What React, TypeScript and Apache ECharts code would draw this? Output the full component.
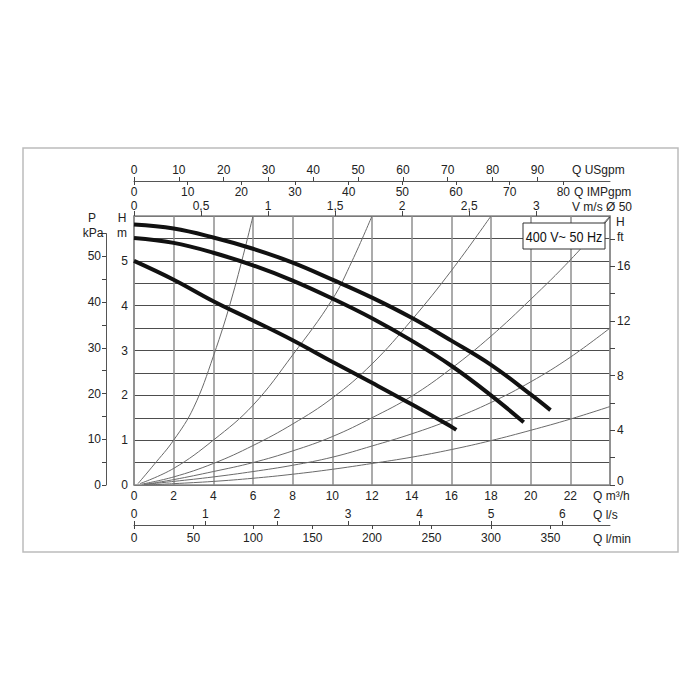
import React, { useEffect, useRef } from 'react';
import * as echarts from 'echarts';

// ---- axis tick labels ----
const flowM3hLabels = [0, 2, 4, 6, 8, 10, 12, 14, 16, 18, 20, 22];
const headMLabels = [0, 1, 2, 3, 4, 5];
const kPaTicks = [0, 5, 10, 15, 20, 25, 30, 35, 40, 45, 50, 55];
const kPaLabels = [0, 10, 20, 30, 40, 50];
const ftTicks = [0, 2, 4, 6, 8, 10, 12, 14, 16, 18];
const ftLabels = [4, 8, 12, 16];
const usgpmLabels = [0, 10, 20, 30, 40, 50, 60, 70, 80, 90];
const impgpmLabels = [0, 10, 20, 30, 40, 50, 60, 70, 80];
const velocityLabels = [0, 0.5, 1, 1.5, 2, 2.5, 3];
const lsLabels = [0, 1, 2, 3, 4, 5, 6];
const lminLabels = [0, 50, 100, 150, 200, 250, 300, 350];

// ---- axis ranges ----
const flowMax = 24; // m3/h
const headMax = 6; // m
const kPaMax = 55;
const ftMax = 19.69;
const usgpmMax = 106.2;
const impgpmMax = 88.7;
const velocityMax = 3.55;
const lsMax = 6.667;
const lminMax = 400;

// ---- pump curves (Q m3/h, H m) ----
const pump1Q = [0, 2, 4, 6, 8, 10, 12, 14, 16, 18, 20, 21];
const pump1H = [5.81, 5.72, 5.52, 5.27, 4.96, 4.58, 4.18, 3.73, 3.22, 2.68, 2.02, 1.67];
const pump2Q = [0, 2, 4, 6, 8, 10, 12, 14, 16, 18, 19.65];
const pump2H = [5.51, 5.4, 5.18, 4.9, 4.56, 4.16, 3.72, 3.22, 2.66, 2.0, 1.4];
const pump3Q = [0, 2, 4, 6, 8, 10, 12, 14, 16, 16.25];
const pump3H = [5.0, 4.58, 4.1, 3.67, 3.23, 2.75, 2.28, 1.8, 1.3, 1.23];

// ---- system curves (Q m3/h, H m) ----
const sysAQ = [0.2, 1, 2, 3, 4, 5, 6];
const sysAH = [0.03, 0.45, 1.0, 1.72, 2.87, 4.28, 6.0];
const sysBQ = [0.3, 2, 4, 6, 8, 10, 11, 12];
const sysBH = [0.03, 0.37, 1.0, 1.78, 2.9, 4.14, 5.0, 6.0];
const sysCQ = [0.4, 2, 4, 6, 8, 10, 12, 14, 16, 18];
const sysCH = [0.02, 0.18, 0.48, 0.88, 1.36, 1.94, 2.7, 3.68, 4.78, 6.0];
const sysDQ = [0.5, 2, 4, 6, 8, 10, 12, 14, 16, 18, 20, 22, 24];
const sysDH = [0.01, 0.12, 0.3, 0.5, 0.76, 1.08, 1.5, 1.98, 2.6, 3.32, 4.14, 5.02, 6.0];
const sysEQ = [0.5, 2, 4, 6, 8, 10, 12, 14, 16, 18, 20, 22, 24];
const sysEH = [0.01, 0.08, 0.18, 0.3, 0.44, 0.62, 0.87, 1.14, 1.46, 1.84, 2.3, 2.85, 3.5];
const sysFQ = [0.6, 2, 4, 6, 8, 10, 12, 14, 16, 18, 20, 22, 24];
const sysFH = [0.0, 0.03, 0.08, 0.15, 0.24, 0.35, 0.48, 0.62, 0.79, 0.99, 1.22, 1.47, 1.75];

const FONT = 'Liberation Sans, Arial, Helvetica, sans-serif';

const zip = (q: number[], h: number[]) => q.map((v, i) => [v, h[i]]);

export default function App() {
  const ref = useRef<HTMLDivElement>(null);

  useEffect(() => {
    document.body.style.margin = '0';
    const chart = echarts.init(ref.current!, null, { renderer: 'svg' });

    const gLeft = 134;
    const gTop = 216;
    const gWidth = 476;
    const gHeight = 269;
    const pxPerM = gHeight / headMax;
    const kPaHeight = (kPaMax / 9.80665) * pxPerM;

    const lbl = (extra: any = {}) => ({
      fontFamily: FONT,
      fontSize: 12,
      color: '#222',
      ...extra,
    });
    const tick = (extra: any = {}) => ({
      show: true,
      length: 4,
      lineStyle: { color: '#444', width: 1 },
      ...extra,
    });
    const line = (color = '#555', width = 1) => ({ show: true, onZero: false, lineStyle: { color, width } });
    const noLine = { show: false, onZero: false };

    const pump = (q: number[], h: number[]) => ({
      type: 'line',
      data: zip(q, h),
      smooth: 0.4,
      symbol: 'none',
      xAxisIndex: 0,
      yAxisIndex: 0,
      lineStyle: { color: '#111', width: 4, cap: 'butt' },
      z: 5,
    });
    const sys = (q: number[], h: number[]) => ({
      type: 'line',
      data: zip(q, h),
      smooth: 0.4,
      symbol: 'none',
      xAxisIndex: 0,
      yAxisIndex: 0,
      lineStyle: { color: '#6a6a6a', width: 1 },
      z: 3,
    });

    const textEl = (text: string, x: number, y: number, align = 'left', size = 12) => ({
      type: 'text',
      x,
      y,
      silent: true,
      z: 50,
      style: {
        text,
        fill: '#222',
        font: `${size}px ${FONT}`,
        textAlign: align,
        textVerticalAlign: 'middle',
      },
    });

    const option: any = {
      animation: false,
      backgroundColor: '#fff',
      grid: [
        { left: gLeft, top: gTop, width: gWidth, height: gHeight, containLabel: false },
        { left: gLeft, top: gTop + gHeight - kPaHeight, width: gWidth, height: kPaHeight, containLabel: false },
      ],
      xAxis: [
        {
          gridIndex: 0,
          type: 'value',
          min: 0,
          max: flowMax,
          interval: 2,
          position: 'bottom',
          axisLine: line('#888', 1.5),
          axisTick: { show: false },
          axisLabel: lbl({ customValues: flowM3hLabels, margin: 5 }),
          splitLine: { show: true, lineStyle: { color: '#8f8f8f', width: 1.5 } },
        },
        {
          gridIndex: 0,
          type: 'value',
          min: 0,
          max: lsMax,
          position: 'bottom',
          offset: 40,
          axisLine: line('#555', 1),
          axisTick: tick({ inside: true, customValues: lsLabels }),
          axisLabel: lbl({ inside: true, customValues: lsLabels, margin: 5 }),
          splitLine: { show: false },
        },
        {
          gridIndex: 0,
          type: 'value',
          min: 0,
          max: lminMax,
          position: 'bottom',
          offset: 40,
          axisLine: noLine,
          axisTick: tick({ customValues: lminLabels }),
          axisLabel: lbl({ customValues: lminLabels, margin: 7 }),
          splitLine: { show: false },
        },
        {
          gridIndex: 0,
          type: 'value',
          min: 0,
          max: usgpmMax,
          position: 'top',
          offset: 35,
          axisLine: line('#555', 1),
          axisTick: tick({ customValues: usgpmLabels }),
          axisLabel: lbl({ customValues: usgpmLabels, margin: 5 }),
          splitLine: { show: false },
        },
        {
          gridIndex: 0,
          type: 'value',
          min: 0,
          max: impgpmMax,
          position: 'top',
          offset: 35,
          axisLine: noLine,
          axisTick: tick({ inside: true, customValues: impgpmLabels }),
          axisLabel: lbl({ inside: true, customValues: impgpmLabels, margin: 5 }),
          splitLine: { show: false },
        },
        {
          gridIndex: 0,
          type: 'value',
          min: 0,
          max: velocityMax,
          position: 'top',
          offset: 0,
          axisLine: line('#888', 1.5),
          axisTick: tick({ length: 5, customValues: velocityLabels }),
          axisLabel: lbl({
            customValues: velocityLabels,
            margin: 4,
            formatter: (v: number) => String(v).replace('.', ','),
          }),
          splitLine: { show: false },
        },
        {
          gridIndex: 1,
          type: 'value',
          min: 0,
          max: flowMax,
          show: false,
          axisLine: noLine,
        },
      ],
      yAxis: [
        {
          gridIndex: 0,
          type: 'value',
          min: 0,
          max: headMax,
          interval: 0.5,
          position: 'left',
          axisLine: line('#888', 1.5),
          axisTick: { show: false },
          axisLabel: lbl({ customValues: headMLabels, margin: 6 }),
          splitLine: { show: true, lineStyle: { color: '#4d4d4d', width: 1 } },
        },
        {
          gridIndex: 0,
          type: 'value',
          min: 0,
          max: ftMax,
          position: 'right',
          axisLine: line('#888', 1.5),
          axisTick: tick({ length: 5, customValues: ftTicks }),
          axisLabel: lbl({ customValues: ftLabels, margin: 7 }),
          splitLine: { show: false },
        },
        {
          gridIndex: 1,
          type: 'value',
          min: 0,
          max: kPaMax,
          position: 'left',
          offset: 28,
          axisLine: line('#555', 1),
          axisTick: tick({ customValues: kPaTicks }),
          axisLabel: lbl({ customValues: kPaLabels, margin: 5 }),
          splitLine: { show: false },
        },
      ],
      series: [
        sys(sysAQ, sysAH),
        sys(sysBQ, sysBH),
        sys(sysCQ, sysCH),
        sys(sysDQ, sysDH),
        sys(sysEQ, sysEH),
        sys(sysFQ, sysFH),
        pump(pump1Q, pump1H),
        pump(pump2Q, pump2H),
        pump(pump3Q, pump3H),
      ],
      graphic: [
        {
          type: 'rect',
          silent: true,
          z: -10,
          shape: { x: 23, y: 148, width: 655, height: 404 },
          style: { fill: 'none', stroke: '#bcbcbc', lineWidth: 1.5 },
        },
        textEl('P', 92, 218, 'center'),
        textEl('kPa', 93, 233, 'center'),
        textEl('H', 122, 218, 'center'),
        textEl('m', 122, 233, 'center'),
        textEl('H', 616, 222),
        textEl('ft', 617, 237),
        textEl('0', 617, 481),
        textEl('Q USgpm', 572, 170),
        textEl('Q IMPgpm', 574, 192),
        textEl('V m/s Ø 50', 572, 207),
        textEl('Q m³/h', 593, 496),
        textEl('Q l/s', 593, 515),
        textEl('Q l/min', 593, 539),
        {
          type: 'line',
          silent: true,
          z: 60,
          shape: { x1: 605, y1: 223, x2: 610, y2: 217 },
          style: { stroke: '#444', lineWidth: 1 },
        },
        {
          type: 'rect',
          silent: true,
          z: 60,
          shape: { x: 523, y: 223, width: 82, height: 26 },
          style: { fill: '#fff', stroke: '#333', lineWidth: 1 },
        },
        {
          type: 'text',
          silent: true,
          z: 61,
          x: 564,
          y: 236.5,
          scaleX: 0.84,
          style: {
            text: '400 V~ 50 Hz',
            fill: '#111',
            font: `15px ${FONT}`,
            textAlign: 'center',
            textVerticalAlign: 'middle',
          },
        },
      ],
    };

    chart.setOption(option);
    return () => chart.dispose();
  }, []);

  return (
    <div
      ref={ref}
      style={{ position: 'absolute', left: 0, top: 0, width: 700, height: 700, background: '#fff' }}
    />
  );
}
